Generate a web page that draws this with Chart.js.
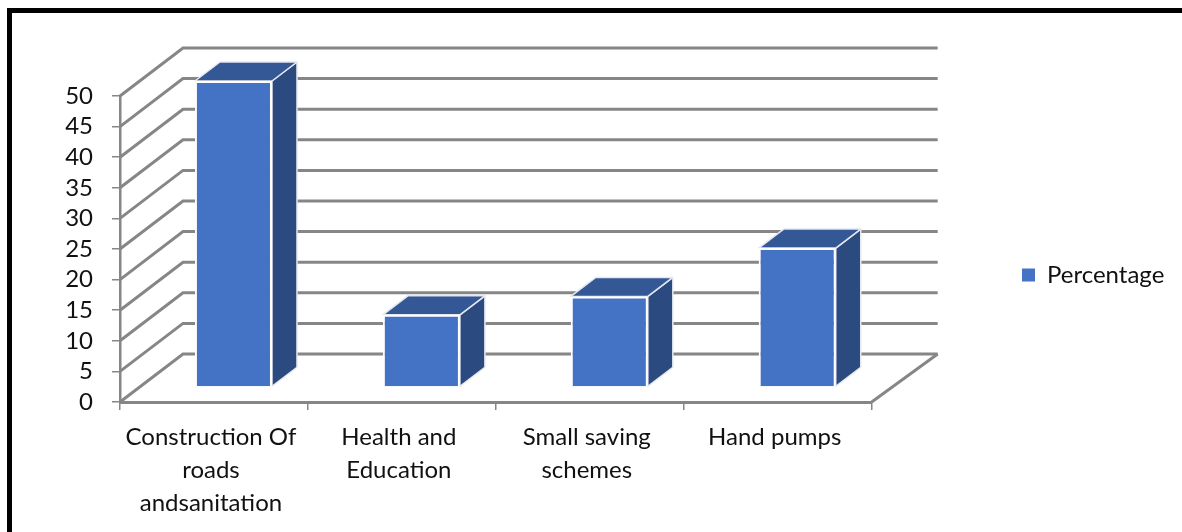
<!DOCTYPE html>
<html>
<head>
<meta charset="utf-8">
<title>Percentage</title>
<script src="https://cdn.jsdelivr.net/npm/chart.js@4"></script>
<style>
  html, body { margin: 0; padding: 0; background: #fff; overflow: hidden; }
  #frame { position: absolute; left: 7px; top: 8px; right: 0; bottom: 0; border-left: 5px solid #000; border-top: 5px solid #000; }
  canvas { position: absolute; left: 0; top: 0; }
</style>
</head>
<body>
<div id="frame"></div>
<canvas id="chart" width="1182" height="532"></canvas>
<script>
// ===============================
// DATA
// ===============================
const categories = [
  ["Construction Of", "roads", "andsanitation"],
  ["Health and", "Education"],
  ["Small saving", "schemes"],
  ["Hand pumps"],
];
const seriesName = "Percentage";
const percentage = [50, 11.8, 14.8, 22.7];
const yTicks = [0, 5, 10, 15, 20, 25, 30, 35, 40, 45, 50];

// ===============================
// 3D LOOK
// ===============================
const GRID = "#868686";
const FRONT = "#4472C4";
const SIDE = "#2B4A80";
const TOP = "#345796";
const TEXT = "#111111";
const wall = { dx: 63, dxRight: 66, dy: -48 };   // depth of the side wall
const barShift = { dx: 19.5, dy: -15 };   // bars stand in the middle of the floor
const barDepth = { dx: 25, dy: -19 };

function poly(ctx, pts, fill) {
  ctx.beginPath();
  pts.forEach((p, i) => (i ? ctx.lineTo(p[0], p[1]) : ctx.moveTo(p[0], p[1])));
  ctx.closePath();
  ctx.fillStyle = fill;
  ctx.fill();
  ctx.stroke();
}

const fake3d = {
  id: "fake3d",
  afterLayout(chart) {
    // legend box sits away from the plot
    const lg = chart.legend;
    lg.left = 1012;
    lg.right = 1182;
    lg.top = 9;
    lg.bottom = 541;
  },
  beforeDatasetsDraw(chart) {
    const { ctx, scales, chartArea } = chart;
    const left = chartArea.left;
    const right = chartArea.right;

    // walls
    ctx.save();
    ctx.lineWidth = 3;
    ctx.strokeStyle = GRID;
    yTicks.forEach((v) => {
      const y = scales.y.getPixelForValue(v);
      ctx.beginPath();
      ctx.moveTo(left, y);
      ctx.lineTo(left + wall.dx, y + wall.dy);
      ctx.lineTo(right + wall.dxRight, y + wall.dy);
      ctx.stroke();
    });
    const y0 = scales.y.getPixelForValue(0);
    ctx.beginPath();
    ctx.moveTo(right, y0);
    ctx.lineTo(right + wall.dxRight, y0 + wall.dy);
    ctx.stroke();
    ctx.restore();

    // bar sides + tops
    ctx.save();
    ctx.lineWidth = 1.5;
    ctx.strokeStyle = "#e4e8f0";
    ctx.lineJoin = "round";
    chart.getDatasetMeta(0).data.forEach((bar) => {
      const l = bar.x - bar.width / 2 + barShift.dx;
      const r = bar.x + bar.width / 2 + barShift.dx;
      const t = bar.y + barShift.dy;
      const b = bar.base + barShift.dy;
      poly(ctx, [[r, t], [r + barDepth.dx, t + barDepth.dy], [r + barDepth.dx, b + barDepth.dy], [r, b]], SIDE);
      poly(ctx, [[l, t], [l + barDepth.dx, t + barDepth.dy], [r + barDepth.dx, t + barDepth.dy], [r, t]], TOP);
    });
    ctx.restore();

    ctx.save();
    ctx.translate(barShift.dx, barShift.dy);
  },
  afterDatasetsDraw(chart) {
    chart.ctx.restore();
  },
};

// ===============================
// CHART
// ===============================
new Chart(document.getElementById("chart"), {
  type: "bar",
  data: {
    labels: categories,
    datasets: [
      {
        label: seriesName,
        data: percentage,
        backgroundColor: FRONT,
        borderColor: "#ffffff",
        borderWidth: 2,
        barPercentage: 0.41,
        categoryPercentage: 1,
        clip: false,
      },
    ],
  },
  options: {
    responsive: false,
    animation: false,
    layout: { padding: { left: 0, top: 96, right: 148, bottom: 0 } },
    plugins: {
      tooltip: { enabled: false },
      legend: {
        position: "right",
        labels: {
          boxWidth: 13,
          boxHeight: 13,
          padding: 10,
          color: TEXT,
          font: { family: "Lato", size: 24 },
          // no white edge on the legend marker
          generateLabels: (c) =>
            Chart.defaults.plugins.legend.labels.generateLabels(c).map((l) => ({ ...l, lineWidth: 0 })),
        },
      },
    },
    scales: {
      x: {
        afterFit(scale) { scale.height = 130; },
        grid: { drawOnChartArea: false, color: GRID, tickLength: 8, lineWidth: 1.5 },
        border: { color: GRID, width: 3 },
        ticks: {
          maxRotation: 0,
          autoSkip: false,
          padding: 11,
          labelOffset: -3,
          color: TEXT,
          font: { family: "Lato", size: 24, lineHeight: 1.375 },
        },
      },
      y: {
        min: 0,
        max: 50,
        afterFit(scale) { scale.width = 120; },
        afterBuildTicks(scale) { scale.ticks = yTicks.map((v) => ({ value: v })); },
        grid: { drawOnChartArea: false, color: GRID, tickLength: 8, lineWidth: 1.5 },
        border: { color: GRID, width: 2.5 },
        ticks: {
          autoSkip: false,
          padding: 19,
          color: TEXT,
          font: { family: "Lato", size: 24 },
        },
      },
    },
  },
  plugins: [fake3d],
});
</script>
</body>
</html>
